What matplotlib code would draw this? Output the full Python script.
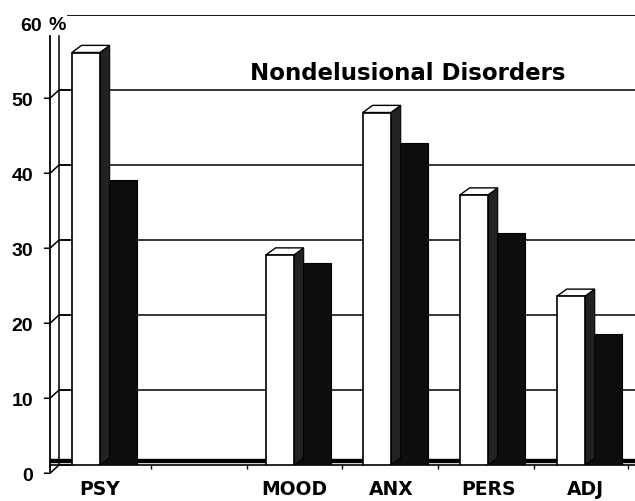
import numpy as np
import matplotlib.pyplot as plt
import matplotlib.transforms as mtransforms

# values (percent)
categories = ["PSY", "MOOD", "ANX", "PERS", "ADJ"]
positions = [0, 2, 3, 4, 5]
white_values = [55, 28, 47, 36, 22.5]
black_values = [38, 27, 43, 31, 17.5]
yticks = [0, 10, 20, 30, 40, 50, 60]

fig = plt.figure(figsize=(6.35, 5.02), dpi=100)
ax = fig.add_axes([50/635, 36/502, 585/635, 450/502])

xl, xr = -0.515, 5.515
ax.set_xlim(xl, xr)
ax.set_ylim(0, 60)

ww = 0.29      # white bar front width
bw = 0.38      # black bar width
dx = 0.10      # depth offset (x)
dy = 0.95      # depth offset (y)

# back wall gridlines
for t in yticks[1:-1]:
    ax.axhline(t, xmin=0.017, xmax=1, color="black", lw=1.1, zorder=1)
ax.axhline(60, xmin=0.031, xmax=1, color="black", lw=1.3, zorder=1)
# floor band
ax.axhspan(0.35, 0.75, color="black", zorder=1)

# left walls
ax.spines["left"].set_bounds(-0.8, 57.2)
ax.spines["left"].set_linewidth(1.3)
ax.axvline(xl + 0.093, ymin=0.0, ymax=57.2/60, color="black", lw=1.1, zorder=1)
for s in ["top", "right"]:
    ax.spines[s].set_visible(False)
ax.spines["bottom"].set_linewidth(1.2)

# tick dashes and connectors to the back wall
for t in yticks[:-1]:
    ax.plot([xl - 0.055, xl, xl + 0.093, xl + 0.2], [t - 1.1, t - 1.1, t, t],
            color="black", lw=1.1, clip_on=False, zorder=2)

for p, w, b in zip(positions, white_values, black_values):
    # black bar (behind)
    ax.bar(p, b, width=bw, align="edge", color="#0d0d0d", edgecolor="black",
           lw=0.8, zorder=3)
    # white bar side face
    ax.fill([p, p + dx, p + dx, p], [0, dy, w + dy, w],
            color="#222222", edgecolor="black", lw=0.8, zorder=4)
    # white bar top face
    ax.fill([p - ww, p - ww + dx, p + dx, p], [w, w + dy, w + dy, w],
            facecolor="white", edgecolor="black", lw=1.0, zorder=5)
    # white bar front face
    ax.bar(p - ww, w, width=ww, align="edge", color="white", edgecolor="black",
           lw=1.2, zorder=5)

ax.set_yticks(yticks)
ax.set_yticklabels([str(t) for t in yticks], fontfamily="Liberation Sans",
                   fontweight="bold", fontsize=14)
ax.tick_params(axis="y", length=0, pad=12)
offset = mtransforms.ScaledTranslation(0, -0.085, fig.dpi_scale_trans)
for lab in ax.get_yticklabels():
    lab.set_transform(lab.get_transform() + offset)
# the "60" sits closer to the % sign
top_lab = ax.get_yticklabels()[-1]
top_lab.set_transform(top_lab.get_transform()
                      + mtransforms.ScaledTranslation(0.09, 0, fig.dpi_scale_trans))

ax.set_xticks(positions)
ax.set_xticklabels(categories, fontfamily="DejaVu Sans", fontweight="bold",
                   fontsize=13.5)
ax.tick_params(axis="x", length=0, pad=10)
ax.set_xticks([0.53, 1.52, 2.49, 3.48, 4.47, 5.44], minor=True)
ax.tick_params(axis="x", which="minor", length=3, width=1, direction="out")

fig.text(57/635, 1 - 25/502, "%", fontfamily="Liberation Sans",
         fontweight="bold", fontsize=14, ha="center", va="center")
fig.text(408/635, 1 - 73/502, "Nondelusional Disorders", fontfamily="DejaVu Sans",
         fontweight="bold", fontsize=16.5, ha="center", va="center")

fig.savefig("out.png", dpi=100)
